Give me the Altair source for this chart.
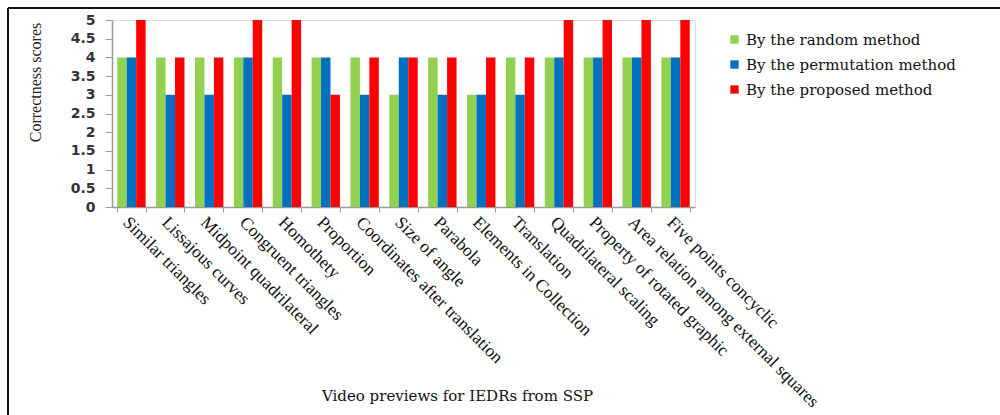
import altair as alt
import pandas as pd

categories = [
    "Similar triangles", "Lissajous curves", "Midpoint quadrilateral",
    "Congruent triangles", "Homothety", "Proportion",
    "Coordinates after translation", "Size of angle", "Parabola",
    "Elements in Collection", "Translation", "Quadrilateral scaling",
    "Property of rotated graphic", "Area relation among external squares",
    "Five points concyclic",
]
series = ["By the random method", "By the permutation method", "By the proposed method"]
random_scores = [4, 4, 4, 4, 4, 4, 4, 3, 4, 3, 4, 4, 4, 4, 4]
permutation_scores = [4, 3, 3, 4, 3, 4, 3, 4, 3, 3, 3, 4, 4, 4, 4]
proposed_scores = [5, 4, 4, 5, 5, 3, 4, 4, 4, 4, 4, 5, 5, 5, 5]
colors = ["#92D050", "#0070C0", "#FF0000"]
y_ticks = [0, 0.5, 1, 1.5, 2, 2.5, 3, 3.5, 4, 4.5, 5]

rows = []
for s, vals in zip(series, [random_scores, permutation_scores, proposed_scores]):
    for c, v in zip(categories, vals):
        rows.append({"Video": c, "Method": s, "Score": v})
df = pd.DataFrame(rows)

bars = alt.Chart(df).mark_bar().encode(
    x=alt.X("Video:N", sort=categories,
            scale=alt.Scale(paddingInner=0.27, paddingOuter=0.135),
            axis=alt.Axis(
                title="Video previews for IEDRs  from  SSP",
                labelAngle=45, labelAlign="left", labelBaseline="top",
                labelFont="Liberation Serif", labelFontSize=17.5, labelColor="#111",
                labelLimit=0, labelPadding=1, labelOverlap=False,
                tickBand="extent", tickSize=5, tickColor="#999",
                domainColor="#999", domainWidth=1.5,
                titleFont="DejaVu Serif", titleFontSize=15, titleFontWeight="normal",
                titleColor="#111", titleX=345, titleY=188, titleAnchor="middle",
                titleAlign="center", titleBaseline="middle",
            )),
    xOffset=alt.XOffset("Method:N", sort=series),
    y=alt.Y("Score:Q",
            scale=alt.Scale(domain=[0, 5], nice=False),
            axis=alt.Axis(
                values=y_ticks, grid=False, format="~g",
                title="Correctness scores",
                labelFont="DejaVu Sans", labelFontWeight="bold", labelFontSize=14,
                labelColor="#333", labelPadding=10,
                tickSize=7, tickColor="#999", domainColor="#999", domainWidth=1.5,
                titleFont="Liberation Serif", titleFontSize=16, titleFontWeight="normal",
                titleColor="#222", titleX=-77, titleY=62, titleAngle=-90,
                titleAlign="center", titleBaseline="middle",
            )),
    color=alt.Color("Method:N", sort=series,
                    scale=alt.Scale(domain=series, range=colors),
                    legend=alt.Legend(
                        title=None, orient="none", legendX=615, legendY=12,
                        symbolType="square", symbolSize=70, symbolStrokeWidth=0,
                        labelFont="DejaVu Serif", labelFontSize=15, labelColor="#111",
                        labelLimit=0, rowPadding=9, labelOffset=4,
                    )),
)

frame = alt.Chart(pd.DataFrame({"a": [0]})).mark_rule(color="#111", strokeWidth=2)
top_line = frame.encode(x=alt.value(-104), x2=alt.value(890), y=alt.value(-12))
left_line = frame.encode(x=alt.value(-104), y=alt.value(-12), y2=alt.value(396))

chart = alt.layer(bars, top_line, left_line).properties(
    width=583, height=187,
    padding={"left": 112, "top": 20, "right": 305, "bottom": 208},
    autosize=alt.AutoSizeParams(type="none"),
).configure_view(stroke=None).configure(background="white")

chart.save("out.html", embed_options={"renderer": "svg", "actions": False})
